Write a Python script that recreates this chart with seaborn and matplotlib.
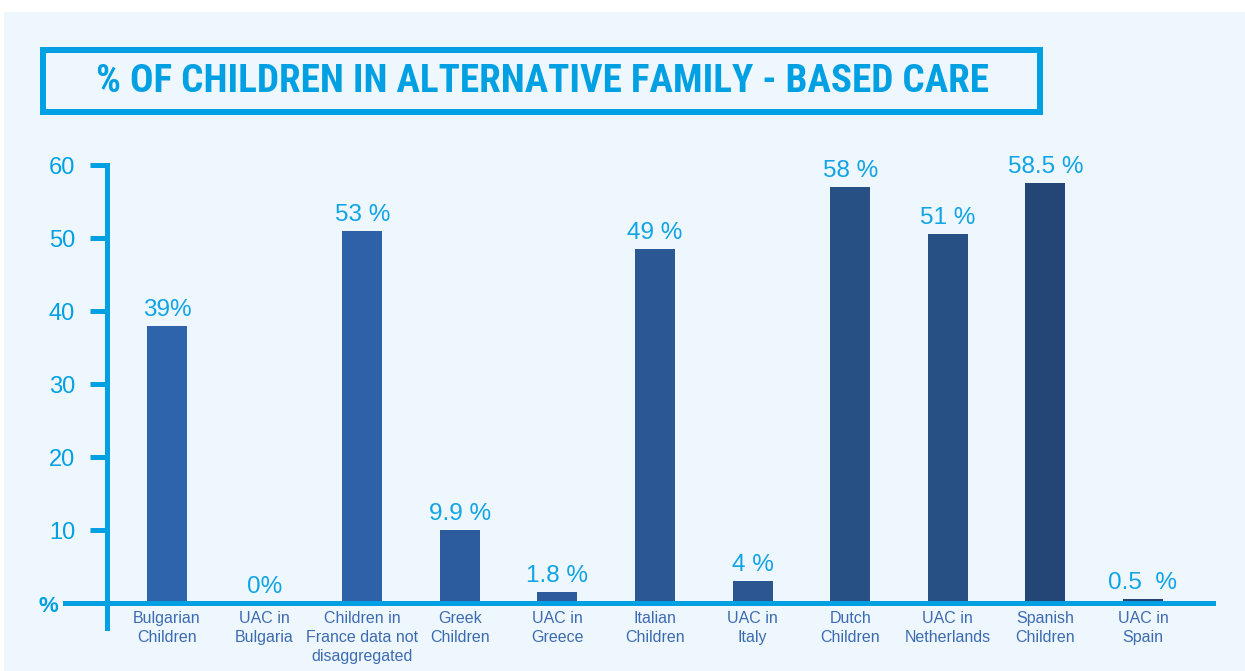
import matplotlib
matplotlib.use("Agg")
import matplotlib.pyplot as plt
from matplotlib import font_manager
import seaborn as sns
import pandas as pd
from matplotlib.patches import Rectangle

# ---- data ----
categories = [
    "Bulgarian\nChildren", "UAC in\nBulgaria",
    "Children in\nFrance data not\ndisaggregated",
    "Greek\nChildren", "UAC in\nGreece",
    "Italian\nChildren", "UAC in\nItaly",
    "Dutch\nChildren", "UAC in\nNetherlands",
    "Spanish\nChildren", "UAC in\nSpain",
]
bar_values = [38, 0, 51, 10, 1.5, 48.5, 3, 57, 50.5, 57.5, 0.6]
value_labels = ["39%", "0%", "53 %", "9.9 %", "1.8 %", "49 %", "4 %",
                "58 %", "51 %", "58.5 %", "0.5  %"]
y_ticks = [10, 20, 30, 40, 50, 60]
title_text = "% OF CHILDREN IN ALTERNATIVE FAMILY - BASED CARE"

# ---- styles ----
bar_colors = ["#2e64ab", "#2e63a9", "#2e62a8", "#2c5c9e", "#2c5a9a",
              "#2b5794", "#2b5692", "#275185", "#275084", "#244677", "#234474"]
CYAN = "#00a0e3"
BG = "#eef7fd"
XLAB = "#3d6bb2"
W, H = 1245, 671

sns.set_style("white")
plt.rcParams["font.family"] = ["Liberation Sans", "DejaVu Sans"]

# pick a condensed family for the title if one is installed
installed = {f.name for f in font_manager.fontManager.ttflist}
title_family = "Liberation Sans"
for cand in ["Roboto Condensed", "Liberation Sans Narrow", "DejaVu Sans Condensed",
             "Open Sans Condensed", "Noto Sans Condensed"]:
    if cand in installed:
        title_family = cand
        break

fig = plt.figure(figsize=(W / 100, H / 100), dpi=100)
fig.patch.set_facecolor("white")
fig.add_artist(Rectangle((4 / W, 0), 1 - 4 / W, 1 - 12 / H, transform=fig.transFigure,
                         facecolor=BG, edgecolor="none", zorder=0))
# title box
fig.add_artist(Rectangle((43 / W, 1 - 112 / H), (1040 - 43) / W, (112 - 50) / H,
                         transform=fig.transFigure, fill=False, edgecolor=CYAN,
                         linewidth=4.3, zorder=1))
title = fig.text(542 / W, 1 - 82 / H, title_text, ha="center", va="center", color=CYAN,
                 fontsize=29, fontweight="bold", family=[title_family, "DejaVu Sans"],
                 zorder=2)
fig.canvas.draw()
tw = title.get_window_extent().width
if tw > 890:
    title.set_fontsize(29 * 890 / tw)

# axes geometry: y=0 at 603px, 7.3 px per unit; x centers 167..1143
ymin, ymax = -3.4, 62
px_per_unit = 7.3
bottom_px = 603 + (-ymin) * px_per_unit
top_px = 603 - ymax * px_per_unit
left_px, right_px = 65, 1213
ax = fig.add_axes([left_px / W, 1 - bottom_px / H, (right_px - left_px) / W,
                   (bottom_px - top_px) / H])
ax.set_facecolor("none")

df = pd.DataFrame({"category": categories, "value": bar_values})
sns.barplot(data=df, x="category", y="value", hue="category", palette=bar_colors,
            width=0.41, saturation=1, legend=False, ax=ax, zorder=1, linewidth=0)

step = (1143 - 167) / 10
ax.set_xlim((left_px - 167) / step, (right_px - 167) / step)
ax.set_ylim(ymin, ymax)
ax.set_xlabel("")
ax.set_ylabel("")

for i, (v, lab) in enumerate(zip(bar_values, value_labels)):
    ax.annotate(lab, (i, v), xytext=(0, 3.5), textcoords="offset points",
                ha="center", va="bottom", color="#10a4e6", fontsize=17.5)

for s in ["top", "right"]:
    ax.spines[s].set_visible(False)
ax.spines["left"].set_position(("data", (107 - 167) / step))
ax.spines["left"].set_bounds(-3.4, 60)
ax.spines["left"].set_linewidth(3.6)
ax.spines["left"].set_color(CYAN)
ax.spines["bottom"].set_position(("data", 0))
ax.spines["bottom"].set_linewidth(3.6)
ax.spines["bottom"].set_color(CYAN)

ax.set_yticks(y_ticks)
ax.tick_params(axis="y", length=12, width=3.6, color=CYAN, labelcolor=CYAN,
               labelsize=17, pad=11, direction="out", left=True)
ax.tick_params(axis="x", length=0, pad=6, labelsize=11.5, labelcolor=XLAB)
for t in ax.get_xticklabels():
    t.set_linespacing(1.3)
for t in ax.get_yticklabels():
    t.set_verticalalignment("center_baseline")

fig.text(48 / W, 1 - 607 / H, "%", ha="center", va="center", color=CYAN,
         fontsize=16, fontweight="bold")

fig.savefig("out.png", dpi=100)
